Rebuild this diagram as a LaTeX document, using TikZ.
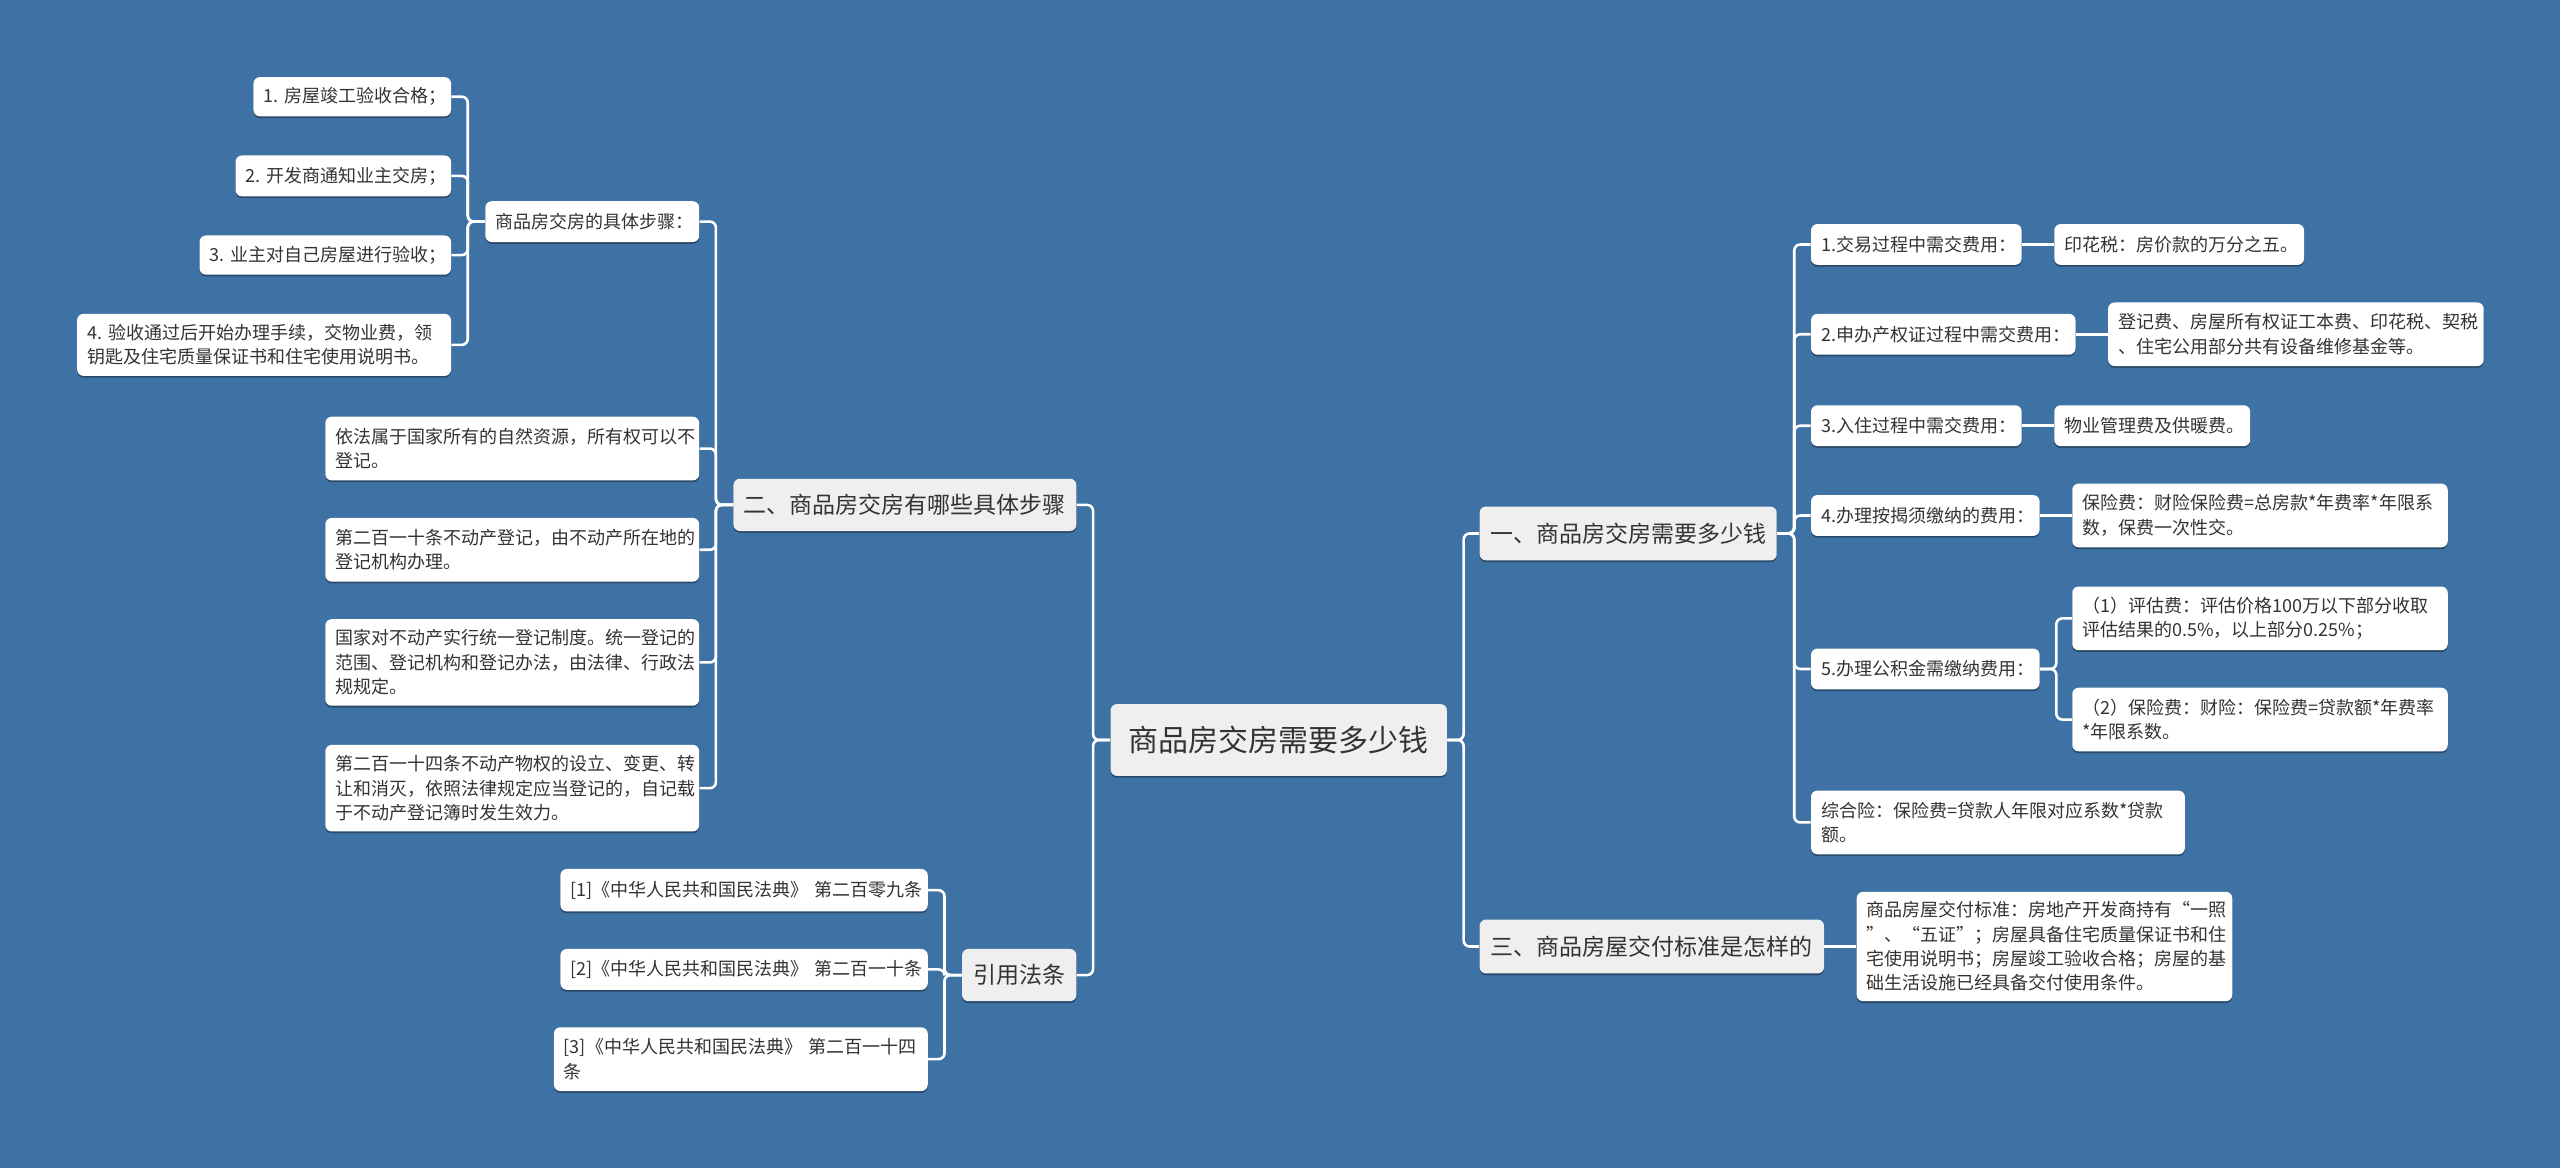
\documentclass[tikz,border=0pt]{standalone}
\usepackage{fontspec}
\setmainfont{Noto Sans CJK SC}
\usetikzlibrary{shadows}
\definecolor{bg}{HTML}{3E71A4}
\definecolor{mainfill}{HTML}{EFEFEF}
\definecolor{txt}{HTML}{333333}
\def\pxu{0.8163pt}
\def\padx{5pt}
\tikzset{
  boxbase/.style={rounded corners=3.2pt, text=txt, inner xsep=\padx, inner ysep=1pt,
    drop shadow={shadow xshift=0pt, shadow yshift=-0.9pt, opacity=0.35, fill=black}},
  leaf/.style={boxbase, fill=white, align=left, font=\fontsize{9}{12.2}\selectfont},
  mainbox/.style={boxbase, fill=mainfill, align=center, font=\fontsize{11.5}{14}\selectfont},
  rootbox/.style={boxbase, fill=mainfill, align=center, font=\fontsize{15}{18}\selectfont},
  conn/.style={draw=white, line width=1.3pt, rounded corners=3pt},
}
\newcommand\mkbox[7]{%
  \pgfmathsetlengthmacro\mkW{(#4-#2)*\pxu-2*\padx}%
  \pgfmathsetlengthmacro\mkH{(#5-#3)*\pxu}%
  \node[#6, text width=\mkW, minimum height=\mkH, anchor=north west] (#1) at (#2,#3) {#7};%
}
\begin{document}
\begin{tikzpicture}[x=0.8163pt, y=-0.8163pt]
\useasboundingbox (0,0) rectangle (1568,715);
\fill[bg] (-10,-10) rectangle (1578,725);

% root and main level
\mkbox{root}{680}{431}{886}{475}{rootbox}{商品房交房需要多少钱}
\mkbox{n2}{449}{293}{659}{325}{mainbox}{二、商品房交房有哪些具体步骤}
\mkbox{n4}{589}{581}{659}{613}{mainbox}{引用法条}
\mkbox{n1}{906}{310}{1088}{343}{mainbox}{一、商品房交房需要多少钱}
\mkbox{n3}{906}{563}{1117}{596}{mainbox}{三、商品房屋交付标准是怎样的}

% left upper group
\mkbox{a0}{297}{123}{428}{148}{leaf}{商品房交房的具体步骤：}
\mkbox{a1}{155}{47}{276}{71}{leaf}{1.~房屋竣工验收合格；}
\mkbox{a2}{144}{95}{276}{120}{leaf}{2.~开发商通知业主交房；}
\mkbox{a3}{122}{144}{276}{168}{leaf}{3.~业主对自己房屋进行验收；}
\mkbox{a4}{47}{192}{276}{230}{leaf}{4.~验收通过后开始办理手续，交物业费，领\\钥匙及住宅质量保证书和住宅使用说明书。}
\mkbox{b1}{199}{255}{428}{294}{leaf}{依法属于国家所有的自然资源，所有权可以不\\登记。}
\mkbox{b2}{199}{317}{428}{356}{leaf}{第二百一十条不动产登记，由不动产所在地的\\登记机构办理。}
\mkbox{b3}{199}{379}{428}{432}{leaf}{国家对不动产实行统一登记制度。统一登记的\\范围、登记机构和登记办法，由法律、行政法\\规规定。}
\mkbox{b4}{199}{456}{428}{509}{leaf}{第二百一十四条不动产物权的设立、变更、转\\让和消灭，依照法律规定应当登记的，自记载\\于不动产登记簿时发生效力。}

% references
\mkbox{r1}{343}{532}{568}{558}{leaf}{[1]《中华人民共和国民法典》~第二百零九条}
\mkbox{r2}{343}{581}{568}{606}{leaf}{[2]《中华人民共和国民法典》~第二百一十条}
\mkbox{r3}{339}{629}{568}{668}{leaf}{[3]《中华人民共和国民法典》~第二百一十四\\条}

% right group
\mkbox{c1}{1109}{137}{1238}{162}{leaf}{1.交易过程中需交费用：}
\mkbox{d1}{1258}{137}{1411}{162}{leaf}{印花税：房价款的万分之五。}
\mkbox{c2}{1109}{192}{1271}{217}{leaf}{2.申办产权证过程中需交费用：}
\mkbox{d2}{1291}{185}{1521}{224}{leaf}{登记费、房屋所有权证工本费、印花税、契税\\、住宅公用部分共有设备维修基金等。}
\mkbox{c3}{1109}{248}{1238}{273}{leaf}{3.入住过程中需交费用：}
\mkbox{d3}{1258}{248}{1378}{273}{leaf}{物业管理费及供暖费。}
\mkbox{c4}{1109}{303}{1249}{328}{leaf}{4.办理按揭须缴纳的费用：}
\mkbox{d4}{1269}{296}{1499}{335}{leaf}{保险费：财险保险费=总房款*年费率*年限系\\数，保费一次性交。}
\mkbox{c5}{1109}{397}{1249}{422}{leaf}{5.办理公积金需缴纳费用：}
\mkbox{e1}{1269}{359}{1499}{398}{leaf}{（1）评估费：评估价格100万以下部分收取\\评估结果的0.5\%，以上部分0.25\%；}
\mkbox{e2}{1269}{421}{1499}{460}{leaf}{（2）保险费：财险：保险费=贷款额*年费率\\{}*年限系数。}
\mkbox{c6}{1109}{484}{1338}{523}{leaf}{综合险：保险费=贷款人年限对应系数*贷款\\额。}
\mkbox{f1}{1137}{546}{1367}{613}{leaf}{商品房屋交付标准：房地产开发商持有“一照\\”、“五证”；房屋具备住宅质量保证书和住\\宅使用说明书；房屋竣工验收合格；房屋的基\\础生活设施已经具备交付使用条件。}

% connectors
\foreach \c in {n2,n4} \draw[conn] (root.west) -- ++(-10.5,0) |- (\c.east);
\foreach \c in {n1,n3} \draw[conn] (root.east) -- ++(10,0) |- (\c.west);
\foreach \c in {a0,b1,b2,b3,b4} \draw[conn] (n2.west) -- ++(-10.5,0) |- (\c.east);
\foreach \c in {a1,a2,a3,a4} \draw[conn] (a0.west) -- ++(-10.5,0) |- (\c.east);
\foreach \c in {r1,r2,r3} \draw[conn] (n4.west) -- ++(-10.5,0) |- (\c.east);
\foreach \c in {c1,c2,c3,c4,c5,c6} \draw[conn] (n1.east) -- ++(10.5,0) |- (\c.west);
\draw[conn] (c1.east) -- (d1.west);
\draw[conn] (c2.east) -- (d2.west);
\draw[conn] (c3.east) -- (d3.west);
\draw[conn] (c4.east) -- (d4.west);
\foreach \c in {e1,e2} \draw[conn] (c5.east) -- ++(10,0) |- (\c.west);
\draw[conn] (n3.east) -- (f1.west);
\end{tikzpicture}
\end{document}
